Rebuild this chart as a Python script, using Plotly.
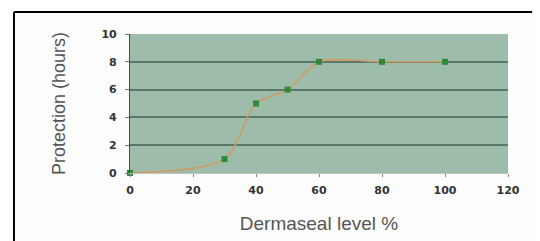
import plotly.graph_objects as go

dermaseal_level = [0, 30, 40, 50, 60, 80, 100]
protection_hours = [0, 1, 5, 6, 8, 8, 8]
x_ticks = [0, 20, 40, 60, 80, 100, 120]
y_ticks = [0, 2, 4, 6, 8, 10]

fig = go.Figure()
fig.add_trace(go.Scatter(
    x=dermaseal_level, y=protection_hours, mode="lines+markers",
    line=dict(color="#d29a62", width=1.6, shape="spline", smoothing=0.8),
    marker=dict(symbol="square", size=6, color="#2f8a35"),
    cliponaxis=False, showlegend=False,
))

tick_font = dict(size=11, color="#333", family="DejaVu Sans", weight="bold")

fig.update_layout(
    width=540, height=241,
    margin=dict(l=122, r=40, t=26, b=76),
    paper_bgcolor="#fdfdfd", plot_bgcolor="#9dbcaa",
    font=dict(family="Liberation Sans, Arial, sans-serif"),
    xaxis=dict(
        range=[0, 120], tickvals=x_ticks, ticktext=[str(v) for v in x_ticks],
        showgrid=False, zeroline=False, showline=True, linecolor="#b8c8bc", linewidth=1,
        ticks="outside", ticklen=3, tickcolor="#888", ticklabelstandoff=4,
        tickfont=tick_font,
        title=dict(text="Dermaseal level %", font=dict(size=19, color="#555"), standoff=20),
    ),
    yaxis=dict(
        range=[0, 10], tickvals=y_ticks, ticktext=[str(v) for v in y_ticks],
        showgrid=True, gridcolor="#57786a", gridwidth=1.8, zeroline=False,
        showline=True, linecolor="#2d5a3a", linewidth=1.2,
        ticks="outside", ticklen=4, tickcolor="#777", ticklabelstandoff=6,
        tickfont=tick_font,
        title=dict(text="Protection (hours)", font=dict(size=18, color="#555"), standoff=31),
    ),
    shapes=[
        dict(type="line", xref="paper", yref="paper", x0=-0.3069, x1=1.2, y0=1.158, y1=1.158,
             line=dict(color="#000", width=2)),
        dict(type="line", xref="paper", yref="paper", x0=-0.3069, x1=-0.3069, y0=1.158, y1=-0.7,
             line=dict(color="#000", width=2)),
    ],
)

fig.write_html("out.html")
